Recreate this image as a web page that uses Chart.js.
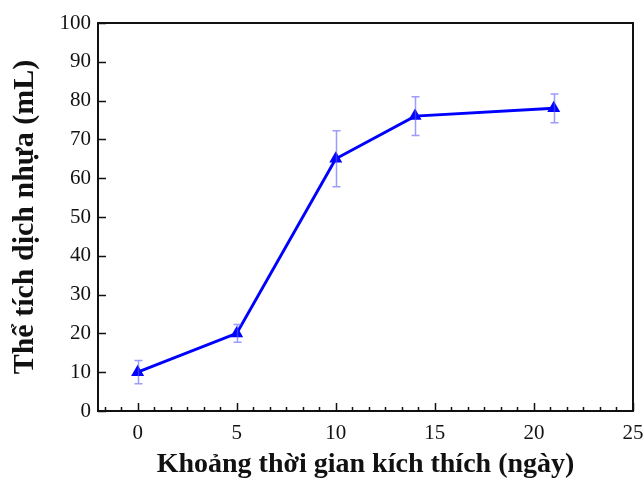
<!DOCTYPE html>
<html><head><meta charset="utf-8">
<script src="https://cdn.jsdelivr.net/npm/chart.js@4/dist/chart.umd.min.js"></script>
<style>html,body{margin:0;padding:0;background:#fff;}#wrap{width:643px;height:479px;position:relative;}</style>
</head><body><div id="wrap"><canvas id="c" width="643" height="479"></canvas></div>
<script>
// Data
const days = [0, 5, 10, 14, 21];
const volume = [10, 20, 65, 76, 78];
const volumeErr = [3, 2.3, 7.2, 5, 3.7];
const xTicks = [0, 5, 10, 15, 20, 25];
const yTicks = [0, 10, 20, 30, 40, 50, 60, 70, 80, 90, 100];
const xTitle = 'Khoảng thời gian kích thích (ngày)';
const yTitle = 'Thể tích dịch nhựa (mL)';

const serif = "'Liberation Serif', 'Times New Roman', serif";

const framePlugin = {
  id: 'frame',
  afterDatasetsDraw(chart) {
    const {ctx, scales: {x, y}} = chart;
    ctx.save();
    ctx.strokeStyle = 'rgba(90,90,255,0.6)';
    ctx.lineWidth = 1.5;
    days.forEach((d, i) => {
      const px = Math.round(x.getPixelForValue(d)) + 0.5;
      const top = y.getPixelForValue(volume[i] + volumeErr[i]);
      const bot = y.getPixelForValue(volume[i] - volumeErr[i]);
      ctx.beginPath();
      ctx.moveTo(px, top); ctx.lineTo(px, bot);
      ctx.moveTo(px - 4, top); ctx.lineTo(px + 4, top);
      ctx.moveTo(px - 4, bot); ctx.lineTo(px + 4, bot);
      ctx.stroke();
    });
    ctx.restore();
  },
  afterDraw(chart) {
    const {ctx, chartArea: a, scales: {x, y}} = chart;
    ctx.save();
    ctx.strokeStyle = '#111';
    ctx.lineWidth = 2;
    ctx.strokeRect(a.left, a.top, a.right - a.left, a.bottom - a.top);
    ctx.lineWidth = 1.5;
    ctx.beginPath();
    const minor = 5 / 6;
    for (let k = -2; k <= 30; k++) {
      const v = k * minor;
      if (v < x.min || v > x.max + 1e-9) continue;
      const px = Math.round(x.getPixelForValue(v)) + 0.5;
      const len = (k % 6 === 0) ? 8 : 4;
      ctx.moveTo(px, a.bottom); ctx.lineTo(px, a.bottom - len);
    }
    yTicks.forEach(v => {
      const py = Math.round(y.getPixelForValue(v)) + 0.5;
      ctx.moveTo(a.left, py); ctx.lineTo(a.left + 8, py);
    });
    ctx.stroke();
    ctx.restore();
  }
};

new Chart(document.getElementById('c'), {
  type: 'line',
  data: {
    datasets: [{
      data: days.map((d, i) => ({x: d, y: volume[i]})),
      borderColor: '#0000ff',
      backgroundColor: '#0000ff',
      borderWidth: 3,
      pointStyle: 'triangle',
      pointRadius: 7.5,
      pointBorderWidth: 0,
      tension: 0
    }]
  },
  options: {
    responsive: false,
    animation: false,
    devicePixelRatio: 1,
    plugins: {legend: {display: false}, tooltip: {enabled: false}},
    layout: {padding: {top: 23, right: 10, left: 0, bottom: 0}},
    scales: {
      x: {
        type: 'linear', min: -2, max: 25,
        grid: {display: false, drawTicks: false},
        border: {display: false},
        afterBuildTicks: s => { s.ticks = xTicks.map(v => ({value: v})); },
        afterFit: s => { s.height = 68; s.paddingLeft = 0; s.paddingRight = 0; },
        ticks: {color: '#111', font: {family: serif, size: 21}, padding: 10, autoSkip: false, maxRotation: 0},
        title: {display: true, text: xTitle, color: '#111', font: {family: serif, size: 28, weight: 'bold', lineHeight: 1}, padding: {top: 0, bottom: 0}}
      },
      y: {
        type: 'linear', min: 0, max: 100,
        grid: {display: false, drawTicks: false},
        border: {display: false},
        afterBuildTicks: s => { s.ticks = yTicks.map(v => ({value: v})); },
        afterFit: s => { s.width = 98; s.paddingTop = 0; s.paddingBottom = 0; },
        ticks: {color: '#111', font: {family: serif, size: 21}, padding: 7},
        title: {display: true, text: yTitle, color: '#111', font: {family: serif, size: 30, weight: 'bold', lineHeight: 1}, padding: {top: 10, bottom: 0}}
      }
    }
  },
  plugins: [framePlugin]
});
</script></body></html>
